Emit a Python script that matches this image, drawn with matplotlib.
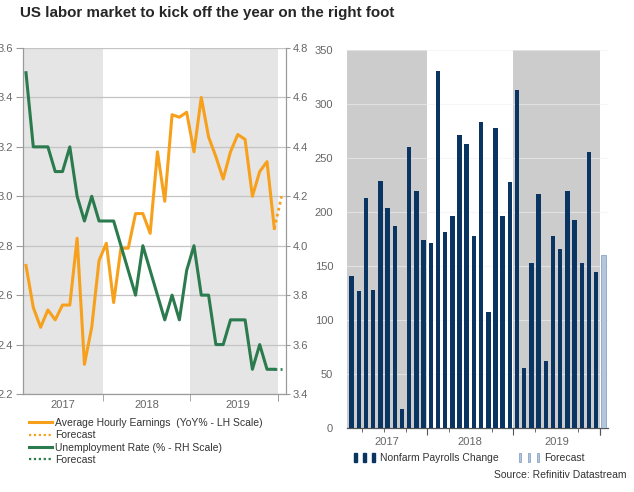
import numpy as np
import pandas as pd
import matplotlib.pyplot as plt
from matplotlib.patches import Rectangle
from matplotlib.lines import Line2D
from matplotlib.legend_handler import HandlerTuple

plt.rcParams['font.family'] = ['Liberation Sans', 'DejaVu Sans']

# ----------------------------
# data: monthly, Feb 2017 .. Dec 2019, forecast for Jan 2020
# ----------------------------
months = pd.date_range('2017-02-01', periods=36, freq='MS')
years = ['2017', '2018', '2019']

ahe = [2.72, 2.55, 2.47, 2.54, 2.50, 2.56, 2.56, 2.83, 2.32, 2.47, 2.74, 2.81,
       2.57, 2.79, 2.79, 2.93, 2.93, 2.85, 3.18, 2.98, 3.33, 3.32, 3.34, 3.18,
       3.40, 3.24, 3.16, 3.07, 3.18, 3.25, 3.23, 3.00, 3.10, 3.14, 2.87]
ahe_fc = 3.00

unemp = [4.7, 4.4, 4.4, 4.4, 4.3, 4.3, 4.4, 4.2, 4.1, 4.2, 4.1,
         4.1, 4.1, 4.0, 3.9, 3.8, 4.0, 3.9, 3.8, 3.7, 3.8, 3.7, 3.9,
         4.0, 3.8, 3.8, 3.6, 3.6, 3.7, 3.7, 3.7, 3.5, 3.6, 3.5, 3.5]
unemp_fc = 3.5

nfp = [141, 127, 213, 128, 229, 204, 187, 18, 260, 220, 174,
       171, 331, 182, 196, 271, 263, 178, 283, 108, 278, 196, 228,
       313, 56, 153, 217, 62, 178, 166, 220, 193, 153, 256, 145]
nfp_fc = 160

n = len(ahe)
x = np.arange(n)
x_fc = n

# year boundaries (between Dec and Jan) in month-index units
bounds = [i - 0.5 for i in range(1, len(months)) if months[i].month == 1]
bounds.append(n - 0.5)

c_orange = '#f7a01c'
c_green = '#2b7b4e'
c_navy = '#0a3563'
c_txt = '#666666'

fig = plt.figure(figsize=(6.34, 4.92), dpi=100)

fig.text(20 / 634, 1 - 17 / 492, 'US labor market to kick off the year on the right foot',
         fontsize=10.9, fontweight='bold', color='#262626', va='baseline')

# ----------------------------
# left panel: earnings vs unemployment
# ----------------------------
ax = fig.add_axes([23 / 634, 1 - 394 / 492, 263 / 634, 346 / 492])
xmin, xmax = -0.41, 35.6
ax.set_xlim(xmin, xmax)
ax.set_ylim(2.2, 3.6)
ax.axvspan(xmin, bounds[0], color='#e5e5e5', lw=0, zorder=0)
ax.axvspan(bounds[1], bounds[2], color='#e5e5e5', lw=0, zorder=0)
ax.set_yticks(np.arange(2.2, 3.61, 0.2))
ax.yaxis.grid(True, color='#c4c4c4', lw=0.9, zorder=1)
ax.set_axisbelow(True)

ax.plot(x, ahe, color=c_orange, lw=2.2, zorder=3)
ax.plot([x[-1], x_fc], [ahe[-1], ahe_fc], color=c_orange, lw=2.0, ls=(0, (1, 1.2)), zorder=3)

ax2 = ax.twinx()
ax2.set_ylim(3.4, 4.8)
ax2.set_yticks(np.arange(3.4, 4.81, 0.2))
ax2.plot(x, unemp, color=c_green, lw=2.2, zorder=3)
ax2.plot([x[-1], x_fc], [unemp[-1], unemp_fc], color=c_green, lw=2.0, ls=(0, (1, 1.2)), zorder=3)

for a in (ax, ax2):
    a.spines['top'].set_visible(False)
    for s in ('left', 'right', 'bottom'):
        a.spines[s].set_color('#9a9a9a')
        a.spines[s].set_linewidth(0.8)
ax.tick_params(axis='y', length=5, color='#9a9a9a', labelcolor=c_txt, labelsize=8, pad=2)
ax2.tick_params(axis='y', length=3, color='#9a9a9a', labelcolor=c_txt, labelsize=8, pad=2)
ax.yaxis.set_major_formatter(plt.FormatStrFormatter('%.1f'))
ax2.yaxis.set_major_formatter(plt.FormatStrFormatter('%.1f'))

edges_l = [xmin, bounds[0], bounds[1], xmax]
ax.set_xticks([(edges_l[k] + edges_l[k + 1]) / 2 for k in range(3)], labels=years)
ax.set_xticks(bounds, minor=True)
ax.tick_params(axis='x', which='major', length=0, labelcolor=c_txt, labelsize=8, pad=4)
ax.tick_params(axis='x', which='minor', length=5, color='#9a9a9a')

handles_l = [Line2D([], [], color=c_orange, lw=2.2),
             Line2D([], [], color=c_orange, lw=1.6, ls=(0, (1, 1.2))),
             Line2D([], [], color=c_green, lw=2.2),
             Line2D([], [], color=c_green, lw=1.6, ls=(0, (1, 1.2)))]
labels_l = ['Average Hourly Earnings  (YoY% - LH Scale)', 'Forecast',
            'Unemployment Rate (% - RH Scale)', 'Forecast']
fig.legend(handles_l, labels_l, loc='upper left', bbox_to_anchor=(29 / 634, 1 - 418 / 492),
           frameon=False, fontsize=7.5, handlelength=2.2, handletextpad=0.3,
           labelspacing=0.22, borderaxespad=0, borderpad=0, labelcolor='#333333')

# ----------------------------
# right panel: payrolls
# ----------------------------
bx = fig.add_axes([347 / 634, 1 - 428.3 / 492, 261 / 634, 378.3 / 492])
bxmin, bxmax = -0.65, 35.65
bx.set_xlim(bxmin, bxmax)
bx.set_ylim(0, 350)
bx.axvspan(bxmin, bounds[0], color='#cccccc', lw=0, zorder=0)
bx.axvspan(bounds[1], bounds[2], color='#cccccc', lw=0, zorder=0)
bx.set_yticks(np.arange(0, 351, 50))
bx.yaxis.grid(True, color='#f0f0f0', lw=0.8, alpha=0.6, zorder=1)

bx.bar(x, nfp, width=0.62, color=c_navy, zorder=3)
bx.bar([x_fc], [nfp_fc], width=0.62, color='#b3c6de', edgecolor='#8aa4c4', lw=0.6, zorder=3)

for s in ('top', 'right', 'left'):
    bx.spines[s].set_visible(False)
bx.spines['bottom'].set_color('#555555')
bx.spines['bottom'].set_linewidth(0.9)
bx.tick_params(axis='y', length=0, labelcolor=c_txt, labelsize=8, pad=10)

edges_r = [bxmin, bounds[0], bounds[1], bounds[2]]
bx.set_xticks([(edges_r[k] + edges_r[k + 1]) / 2 for k in range(3)], labels=years)
quarters = [i - 0.5 for i in range(1, len(months)) if months[i].month in (4, 7, 10)]
bx.set_xticks(quarters, minor=True)
bx.tick_params(axis='x', which='major', length=0, labelcolor=c_txt, labelsize=8, pad=6)
bx.tick_params(axis='x', which='minor', length=3, color='#555555')
sec = bx.secondary_xaxis('bottom')
sec.set_xticks(bounds, labels=[])
sec.tick_params(length=5, color='#555555')
sec.spines['bottom'].set_visible(False)

h_bar = tuple(Rectangle((0, 0), 1, 1, color=c_navy) for _ in range(3))
h_fc = tuple(Rectangle((0, 0), 1, 1, facecolor='#b3c6de', edgecolor='#8aa4c4', lw=0.6) for _ in range(3))
fig.legend([h_bar, h_fc], ['Nonfarm Payrolls Change', 'Forecast'],
           handler_map={tuple: HandlerTuple(ndivide=None, pad=0.6)},
           loc='upper left', bbox_to_anchor=(354 / 634, 1 - 453 / 492), ncol=2,
           frameon=False, fontsize=7.5, handlelength=2.0, handleheight=0.9,
           handletextpad=0.5, columnspacing=1.9, borderaxespad=0, borderpad=0,
           labelcolor='#333333')

fig.text(627 / 634, 1 - 475 / 492, 'Source: Refinitiv Datastream', ha='right', va='center',
         fontsize=7.5, color='#333333')

fig.savefig('out.png', dpi=100)
